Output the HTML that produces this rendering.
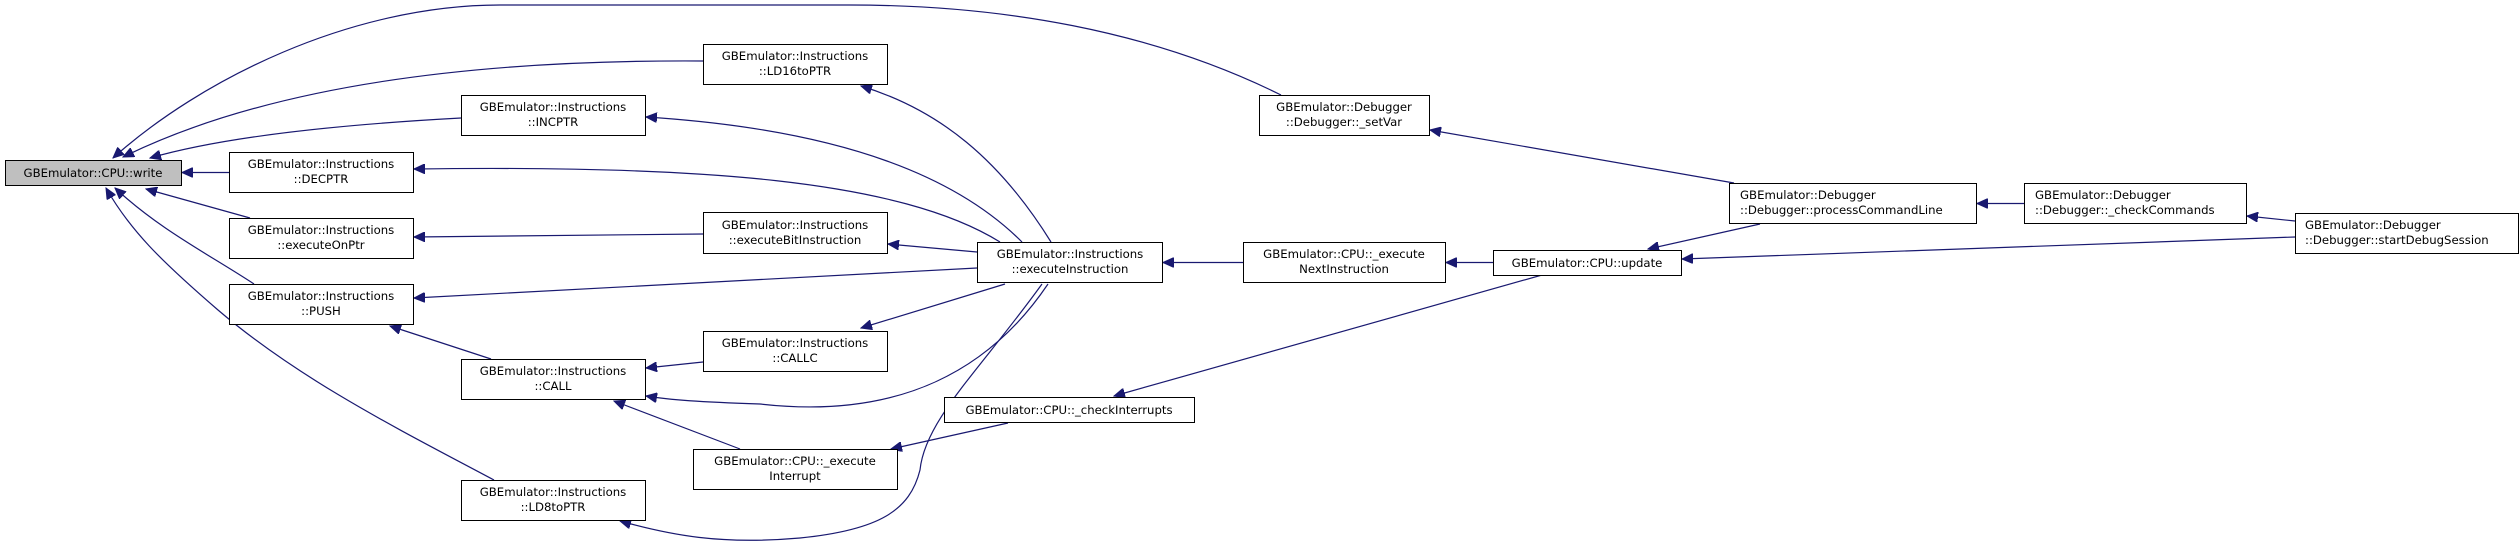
<!DOCTYPE html>
<html><head><meta charset="utf-8"><style>
html,body{margin:0;padding:0;background:#fff;}
svg{display:block;}
text{font-family:"DejaVu Sans","Liberation Sans",sans-serif;font-size:11.7px;fill:#000;}
.e{fill:none;stroke:#191970;stroke-width:1.2;}
.n{fill:#fff;stroke:#000;stroke-width:1;}
</style></head><body>
<svg width="2519" height="543" viewBox="0 0 2519 543" xmlns="http://www.w3.org/2000/svg">
<defs>
<marker id="a" markerUnits="userSpaceOnUse" markerWidth="12" markerHeight="10" refX="11" refY="5" orient="auto">
<path d="M0,0 L11,5 L0,10 z" fill="#191970" stroke="#191970"/>
</marker>
</defs>
<g marker-end="url(#a)">
<path class="e" d="M1281,95 C1150,30 1000,5 850,5 L500,5 C350,5 200,80 113,158"/>
<path class="e" d="M703,61 C550,60 300,70 123,157"/>
<path class="e" d="M461,118 C350,124 230,135 150,158"/>
<path class="e" d="M229,172.5 L182,172.5"/>
<path class="e" d="M250,218 L146,189"/>
<path class="e" d="M254,284 C210,255 160,230 115,188"/>
<path class="e" d="M494,480 C400,430 300,380 218,310 C160,260 130,230 106,188"/>
<path class="e" d="M491,359 L390,326"/>
<path class="e" d="M1051,242 C1000,160 940,110 861,86"/>
<path class="e" d="M1022,242 C960,180 850,130 646,117"/>
<path class="e" d="M1000,242 C900,180 700,165 414,169"/>
<path class="e" d="M703,234 L414,237"/>
<path class="e" d="M977,252 L888,244"/>
<path class="e" d="M977,268 L414,298"/>
<path class="e" d="M1005,284 L861,328"/>
<path class="e" d="M703,362 L646,368"/>
<path class="e" d="M1048,284 C990,370 900,420 760,404 C700,402 670,400 646,396"/>
<path class="e" d="M740,449 L614,401"/>
<path class="e" d="M1042,284 C980,370 925,420 920,470 C910,510 880,530 800,538 C720,545 670,535 620,521"/>
<path class="e" d="M1008,423 L891,449"/>
<path class="e" d="M1542,275 L1114,396"/>
<path class="e" d="M1243,262.5 L1163,262.5"/>
<path class="e" d="M1493,262.5 L1446,262.5"/>
<path class="e" d="M1760,224 L1648,249"/>
<path class="e" d="M2295,237 L1682,259"/>
<path class="e" d="M1734,183 L1430,130"/>
<path class="e" d="M2024,203.5 L1977,203.5"/>
<path class="e" d="M2295,221 L2247,216"/>
</g>
<rect x="5.5" y="160.5" width="176" height="25" fill="#bfbfbf" stroke="#000"/>
<text x="93" y="177" text-anchor="middle">GBEmulator::CPU::write</text>

<rect class="n" x="703.5" y="44.5" width="184" height="40" stroke="#555"/>
<text x="795" y="60" text-anchor="middle">GBEmulator::Instructions</text><text x="795" y="75" text-anchor="middle">::LD16toPTR</text>

<rect class="n" x="461.5" y="95.5" width="184" height="40"/>
<text x="553" y="111" text-anchor="middle">GBEmulator::Instructions</text><text x="553" y="126" text-anchor="middle">::INCPTR</text>

<rect class="n" x="229.5" y="152.5" width="184" height="40"/>
<text x="321" y="168" text-anchor="middle">GBEmulator::Instructions</text><text x="321" y="183" text-anchor="middle">::DECPTR</text>

<rect class="n" x="229.5" y="218.5" width="184" height="40"/>
<text x="321" y="234" text-anchor="middle">GBEmulator::Instructions</text><text x="321" y="249" text-anchor="middle">::executeOnPtr</text>

<rect class="n" x="229.5" y="284.5" width="184" height="40"/>
<text x="321" y="300" text-anchor="middle">GBEmulator::Instructions</text><text x="321" y="315" text-anchor="middle">::PUSH</text>

<rect class="n" x="703.5" y="212.5" width="184" height="41" stroke="#555"/>
<text x="795" y="229" text-anchor="middle">GBEmulator::Instructions</text><text x="795" y="244" text-anchor="middle">::executeBitInstruction</text>

<rect class="n" x="703.5" y="331.5" width="184" height="40"/>
<text x="795" y="347" text-anchor="middle">GBEmulator::Instructions</text><text x="795" y="362" text-anchor="middle">::CALLC</text>

<rect class="n" x="461.5" y="359.5" width="184" height="40"/>
<text x="553" y="375" text-anchor="middle">GBEmulator::Instructions</text><text x="553" y="390" text-anchor="middle">::CALL</text>

<rect class="n" x="693.5" y="449.5" width="204" height="40"/>
<text x="795" y="465" text-anchor="middle">GBEmulator::CPU::_execute</text><text x="795" y="480" text-anchor="middle">Interrupt</text>

<rect class="n" x="461.5" y="480.5" width="184" height="40"/>
<text x="553" y="496" text-anchor="middle">GBEmulator::Instructions</text><text x="553" y="511" text-anchor="middle">::LD8toPTR</text>

<rect class="n" x="1259.5" y="95.5" width="170" height="40"/>
<text x="1344" y="111" text-anchor="middle">GBEmulator::Debugger</text><text x="1344" y="126" text-anchor="middle">::Debugger::_setVar</text>

<rect class="n" x="977.5" y="242.5" width="185" height="40"/>
<text x="1070" y="258" text-anchor="middle">GBEmulator::Instructions</text><text x="1070" y="273" text-anchor="middle">::executeInstruction</text>

<rect class="n" x="1243.5" y="242.5" width="202" height="40"/>
<text x="1344" y="258" text-anchor="middle">GBEmulator::CPU::_execute</text><text x="1344" y="273" text-anchor="middle">NextInstruction</text>

<rect class="n" x="1493.5" y="250.5" width="188" height="25"/>
<text x="1587" y="267" text-anchor="middle">GBEmulator::CPU::update</text>

<rect class="n" x="944.5" y="397.5" width="250" height="25"/>
<text x="1069" y="414" text-anchor="middle">GBEmulator::CPU::_checkInterrupts</text>

<rect class="n" x="1729.5" y="183.5" width="247" height="40"/>
<text x="1740" y="199">GBEmulator::Debugger</text><text x="1740" y="214">::Debugger::processCommandLine</text>

<rect class="n" x="2024.5" y="183.5" width="222" height="40"/>
<text x="2035" y="199">GBEmulator::Debugger</text><text x="2035" y="214">::Debugger::_checkCommands</text>

<rect class="n" x="2295.5" y="213.5" width="223" height="40" stroke="#555"/>
<text x="2305" y="229">GBEmulator::Debugger</text><text x="2305" y="244">::Debugger::startDebugSession</text>
</svg>
</body></html>
